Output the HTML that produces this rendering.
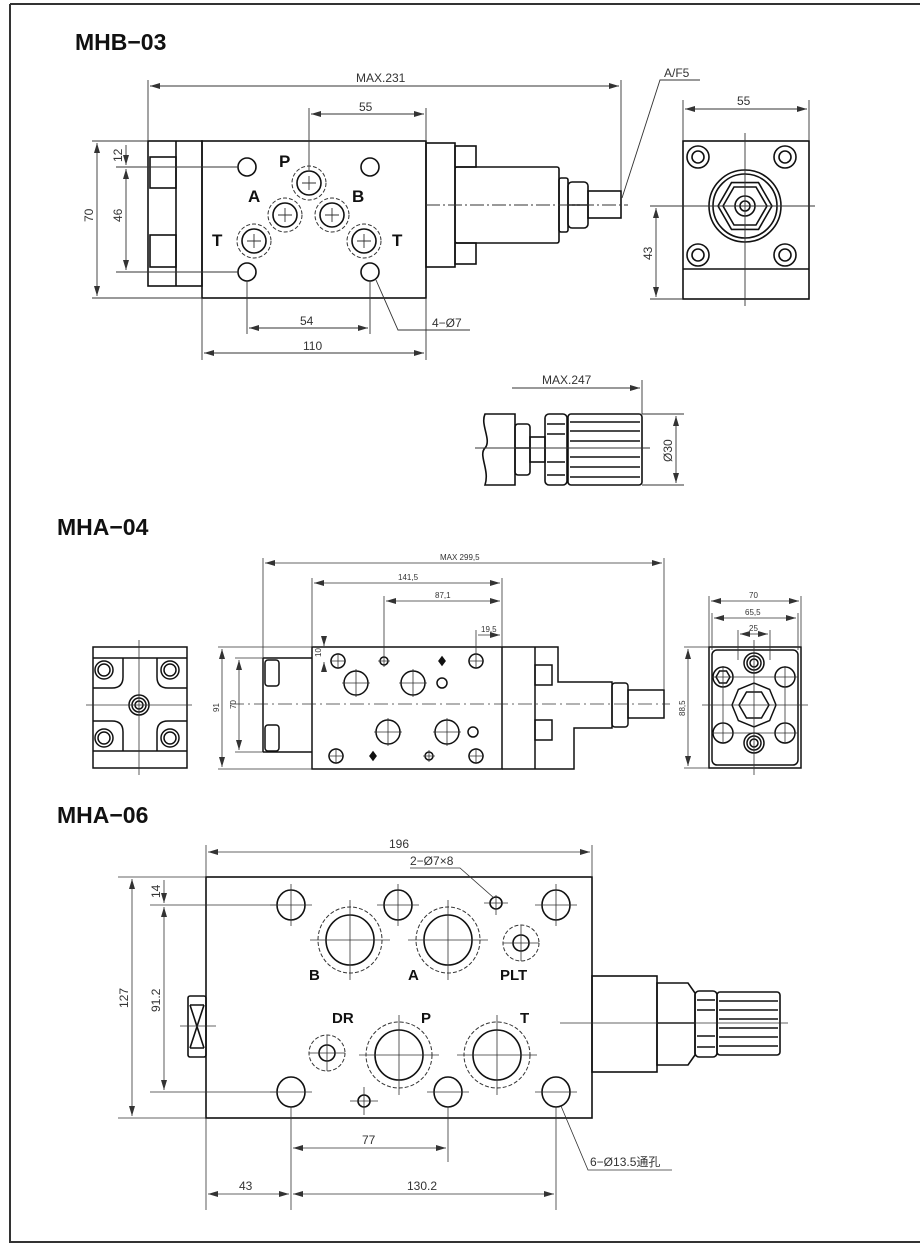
<!DOCTYPE html>
<html><head><meta charset="utf-8">
<style>
html,body{margin:0;padding:0;background:#fff;}
svg{display:block;}
.t{font-family:"Liberation Sans","Noto Sans CJK SC",sans-serif;font-size:12px;fill:#333;}
.s{font-family:"Liberation Sans",sans-serif;font-size:8px;fill:#333;}
.b{font-family:"Liberation Sans",sans-serif;font-weight:bold;font-size:17px;fill:#111;}
.h{font-family:"Liberation Sans",sans-serif;font-weight:bold;font-size:23px;fill:#111;}
</style></head><body>
<svg width="920" height="1247" viewBox="0 0 920 1247" xmlns="http://www.w3.org/2000/svg">
<defs>
<marker id="a" viewBox="0 0 10 6" refX="10" refY="3" markerWidth="10" markerHeight="6" orient="auto-start-reverse" markerUnits="userSpaceOnUse"><path d="M0,0 L10,3 L0,6z" fill="#333"/></marker>
</defs>
<!-- frame -->
<path d="M10,4 H920 M10,4 V1242 H920" stroke="#333" stroke-width="2" fill="none"/>
<text class="h" x="75" y="50">MHB−03</text>
<text class="h" x="57" y="535">MHA−04</text>
<text class="h" x="57" y="823">MHA−06</text>

<g fill="none" stroke="#111" stroke-width="1.6">
<!-- ===== MHB-03 side view ===== -->
<rect x="148" y="141" width="54" height="145"/>
<line x1="176" y1="141" x2="176" y2="286"/>
<rect x="150" y="157" width="26" height="31"/>
<rect x="150" y="235" width="26" height="32"/>
<rect x="202" y="141" width="224" height="157"/>
<rect x="426" y="143" width="29" height="124"/>
<rect x="455" y="146" width="21" height="21"/>
<rect x="455" y="243" width="21" height="21"/>
<rect x="455" y="167" width="104" height="76" rx="2"/>
<rect x="559" y="178" width="9" height="54" rx="2"/>
<rect x="568" y="182" width="20" height="46" rx="4"/>
<line x1="568" y1="205" x2="588" y2="205"/>
<rect x="588" y="191" width="33" height="27"/>
<!-- holes -->
<circle cx="247" cy="167" r="9"/><circle cx="370" cy="167" r="9"/>
<circle cx="247" cy="272" r="9"/><circle cx="370" cy="272" r="9"/>
<circle cx="309" cy="183" r="12"/><circle cx="285" cy="215" r="12"/>
<circle cx="332" cy="215" r="12"/><circle cx="254" cy="241" r="12"/><circle cx="364" cy="241" r="12"/>
</g>
<g fill="none" stroke="#333" stroke-width="1" stroke-dasharray="4,2">
<circle cx="309" cy="183" r="17"/><circle cx="285" cy="215" r="17"/>
<circle cx="332" cy="215" r="17"/><circle cx="254" cy="241" r="17"/><circle cx="364" cy="241" r="17"/>
</g>
<g fill="none" stroke="#333" stroke-width="0.9">
<path d="M309,176 V190 M302,183 H316 M285,208 V222 M278,215 H292 M332,208 V222 M325,215 H339 M254,234 V248 M247,241 H261 M364,234 V248 M357,241 H371"/>
<line x1="426" y1="205" x2="628" y2="205" stroke-dasharray="14,3,2,3"/>
<!-- dims -->
<line x1="148" y1="141" x2="148" y2="80"/><line x1="621" y1="191" x2="621" y2="80"/>
<line x1="150" y1="86" x2="619" y2="86" marker-start="url(#a)" marker-end="url(#a)"/>
<line x1="309" y1="170" x2="309" y2="108"/><line x1="426" y1="141" x2="426" y2="108"/>
<line x1="311" y1="114" x2="424" y2="114" marker-start="url(#a)" marker-end="url(#a)"/>
<line x1="92" y1="141" x2="148" y2="141"/><line x1="92" y1="298" x2="202" y2="298"/>
<line x1="116" y1="167" x2="238" y2="167"/><line x1="116" y1="272" x2="238" y2="272"/>
<line x1="97" y1="143" x2="97" y2="296" marker-start="url(#a)" marker-end="url(#a)"/>
<line x1="126" y1="169" x2="126" y2="270" marker-start="url(#a)" marker-end="url(#a)"/>
<line x1="126" y1="145" x2="126" y2="165" marker-end="url(#a)"/>
<line x1="247" y1="281" x2="247" y2="334"/><line x1="370" y1="281" x2="370" y2="334"/>
<line x1="249" y1="328" x2="368" y2="328" marker-start="url(#a)" marker-end="url(#a)"/>
<line x1="202" y1="298" x2="202" y2="360"/><line x1="426" y1="298" x2="426" y2="360"/>
<line x1="204" y1="353" x2="424" y2="353" marker-start="url(#a)" marker-end="url(#a)"/>
<path d="M376,280 L398,330 H470"/>
<path d="M622,198 L660,80 H700"/>
</g>
<g class="t">
<text x="356" y="82">MAX.231</text>
<text x="359" y="111">55</text>
<text x="300" y="325">54</text>
<text x="303" y="350">110</text>
<text x="432" y="327">4−Ø7</text>
<text x="664" y="77">A/F5</text>
<text transform="translate(93,222) rotate(-90)">70</text>
<text transform="translate(122,222) rotate(-90)">46</text>
<text transform="translate(122,162) rotate(-90)">12</text>
</g>
<g class="b">
<text x="279" y="167">P</text><text x="248" y="202">A</text><text x="352" y="202">B</text>
<text x="212" y="246">T</text><text x="392" y="246">T</text>
</g>

<!-- MHB-03 end view -->
<g fill="none" stroke="#111" stroke-width="1.6">
<rect x="683" y="141" width="126" height="158"/>
<line x1="683" y1="269" x2="809" y2="269"/>
<circle cx="698" cy="157" r="11"/><circle cx="785" cy="157" r="11"/>
<circle cx="698" cy="255" r="11"/><circle cx="785" cy="255" r="11"/>
<circle cx="698" cy="157" r="6"/><circle cx="785" cy="157" r="6"/>
<circle cx="698" cy="255" r="6"/><circle cx="785" cy="255" r="6"/>
<circle cx="745" cy="206" r="36"/><circle cx="745" cy="206" r="32"/>
<polygon points="772,206 758.5,229.4 731.5,229.4 718,206 731.5,182.6 758.5,182.6"/>
<polygon points="767,206 756,225 734,225 723,206 734,187 756,187"/>
<circle cx="745" cy="206" r="10"/><circle cx="745" cy="206" r="5"/>
</g>
<g fill="none" stroke="#333" stroke-width="0.9">
<line x1="745" y1="133" x2="745" y2="306"/><line x1="650" y1="206" x2="815" y2="206"/>
<line x1="683" y1="141" x2="683" y2="100"/><line x1="809" y1="141" x2="809" y2="100"/>
<line x1="685" y1="109" x2="807" y2="109" marker-start="url(#a)" marker-end="url(#a)"/>
<line x1="650" y1="299" x2="683" y2="299"/>
<line x1="656" y1="208" x2="656" y2="297" marker-start="url(#a)" marker-end="url(#a)"/>
</g>
<text class="t" x="737" y="105">55</text>
<text class="t" transform="translate(652,260) rotate(-90)">43</text>

<!-- MAX.247 view -->
<g fill="none" stroke="#111" stroke-width="1.6">
<path d="M485,414 H515 V485 H485 C490,470 478,455 485,448 C492,440 480,425 485,414Z"/>
<rect x="515" y="424" width="15" height="51" rx="3"/>
<line x1="515" y1="448" x2="530" y2="448"/>
<rect x="530" y="437" width="15" height="25"/>
<rect x="545" y="414" width="22" height="71" rx="4"/>
<rect x="568" y="414" width="74" height="71" rx="3"/>
<path d="M570,422 H640 M570,431 H640 M570,441 H640 M570,457 H640 M570,467 H640 M570,477 H640 M547,424 H565 M547,434 H565 M547,462 H565 M547,475 H565"/>
</g>
<g fill="none" stroke="#333" stroke-width="0.9">
<line x1="475" y1="448" x2="650" y2="448"/>
<line x1="642" y1="414" x2="642" y2="380"/>
<line x1="512" y1="388" x2="640" y2="388" marker-end="url(#a)"/>
<line x1="642" y1="414" x2="684" y2="414"/><line x1="642" y1="485" x2="684" y2="485"/>
<line x1="676" y1="416" x2="676" y2="483" marker-start="url(#a)" marker-end="url(#a)"/>
</g>
<text class="t" x="542" y="384">MAX.247</text>
<text class="t" transform="translate(672,462) rotate(-90)">Ø30</text>

<!-- ===== MHA-04 ===== -->
<g fill="none" stroke="#111" stroke-width="1.5">
<rect x="93" y="647" width="94" height="121"/>
<path d="M93,658 H187 M93,751 H187"/>
<path d="M93,688 H112 Q123,688 123,677 V658 M187,688 H168 Q157,688 157,677 V658 M93,721 H112 Q123,721 123,732 V751 M187,721 H168 Q157,721 157,732 V751"/>
<circle cx="104" cy="670" r="9"/><circle cx="170" cy="670" r="9"/><circle cx="104" cy="738" r="9"/><circle cx="170" cy="738" r="9"/>
<circle cx="104" cy="670" r="6"/><circle cx="170" cy="670" r="6"/><circle cx="104" cy="738" r="6"/><circle cx="170" cy="738" r="6"/>
<circle cx="139" cy="705" r="10"/><circle cx="139" cy="705" r="7"/><circle cx="139" cy="705" r="4"/>
<!-- main -->
<path d="M263,658 H312 M263,752 H312 M263,658 V752"/>
<rect x="265" y="660" width="14" height="26" rx="3"/><rect x="265" y="725" width="14" height="26" rx="3"/>
<rect x="312" y="647" width="190" height="122"/>
<path d="M502,647 H558 V682 H612 V728 H574 V769 H502"/>
<line x1="535" y1="647" x2="535" y2="769"/>
<rect x="535" y="665" width="17" height="20"/><rect x="535" y="720" width="17" height="20"/>
<rect x="612" y="683" width="16" height="44" rx="3"/>
<rect x="628" y="690" width="36" height="28"/>
<circle cx="338" cy="661" r="7"/><circle cx="384" cy="661" r="4"/><circle cx="476" cy="661" r="7"/>
<circle cx="356" cy="683" r="12"/><circle cx="413" cy="683" r="12"/><circle cx="442" cy="683" r="5"/>
<circle cx="388" cy="732" r="12"/><circle cx="447" cy="732" r="12"/><circle cx="473" cy="732" r="5"/>
<circle cx="336" cy="756" r="7"/><circle cx="429" cy="756" r="4"/><circle cx="476" cy="756" r="7"/>
<path d="M442,657 l3,4 -3,4 -3,-4z M373,752 l3,4 -3,4 -3,-4z" fill="#111"/>
</g>
<g fill="none" stroke="#333" stroke-width="0.8">
<line x1="139" y1="640" x2="139" y2="775"/><line x1="86" y1="705" x2="192" y2="705"/>
<line x1="230" y1="704" x2="670" y2="704" stroke-dasharray="14,4,2,4"/>
<path d="M330,661 H346 M338,653 V669 M378,661 H390 M384,655 V667 M468,661 H484 M476,653 V669 M342,683 H370 M356,669 V697 M399,683 H427 M413,669 V697 M374,732 H402 M388,718 V746 M433,732 H461 M447,718 V746 M328,756 H344 M336,748 V764 M423,756 H435 M429,750 V762 M468,756 H484 M476,748 V764"/>
<line x1="263" y1="658" x2="263" y2="558"/><line x1="664" y1="690" x2="664" y2="558"/>
<line x1="265" y1="563" x2="662" y2="563" marker-start="url(#a)" marker-end="url(#a)"/>
<line x1="312" y1="647" x2="312" y2="578"/><line x1="502" y1="647" x2="502" y2="578"/>
<line x1="314" y1="583" x2="500" y2="583" marker-start="url(#a)" marker-end="url(#a)"/>
<line x1="384" y1="655" x2="384" y2="596"/>
<line x1="386" y1="601" x2="500" y2="601" marker-start="url(#a)" marker-end="url(#a)"/>
<line x1="476" y1="653" x2="476" y2="630"/>
<line x1="478" y1="635" x2="500" y2="635" marker-end="url(#a)"/>
<line x1="324" y1="637" x2="324" y2="646" marker-end="url(#a)"/><line x1="324" y1="672" x2="324" y2="662" marker-end="url(#a)"/>
<line x1="218" y1="647" x2="312" y2="647"/><line x1="218" y1="769" x2="312" y2="769"/>
<line x1="222" y1="649" x2="222" y2="767" marker-start="url(#a)" marker-end="url(#a)"/>
<line x1="235" y1="658" x2="263" y2="658"/><line x1="235" y1="752" x2="263" y2="752"/>
<line x1="239" y1="660" x2="239" y2="750" marker-start="url(#a)" marker-end="url(#a)"/>
</g>
<g class="s">
<text x="440" y="560">MAX 299,5</text>
<text x="398" y="580">141,5</text>
<text x="435" y="598">87,1</text>
<text x="481" y="632">19,5</text>
<text transform="translate(321,657) rotate(-90)">10</text>
<text transform="translate(219,712) rotate(-90)">91</text>
<text transform="translate(236,709) rotate(-90)">70</text>
<text transform="translate(685,716) rotate(-90)">88,5</text>
<text x="749" y="598">70</text>
<text x="745" y="615">65,5</text>
<text x="749" y="631">25</text>
</g>
<!-- MHA-04 end view -->
<g fill="none" stroke="#111" stroke-width="1.5">
<rect x="709" y="647" width="92" height="121"/>
<rect x="712" y="650" width="86" height="115" rx="5"/>
<circle cx="754" cy="663" r="10"/><circle cx="754" cy="663" r="7"/><circle cx="754" cy="663" r="4"/>
<circle cx="754" cy="743" r="10"/><circle cx="754" cy="743" r="7"/><circle cx="754" cy="743" r="4"/>
<circle cx="723" cy="677" r="10"/><polygon points="730,677 726.5,683 719.5,683 716,677 719.5,671 726.5,671"/>
<circle cx="785" cy="677" r="10"/>
<circle cx="723" cy="733" r="10"/><circle cx="785" cy="733" r="10"/>
<polygon points="776,705 769.6,720.6 754,727 738.4,720.6 732,705 738.4,689.4 754,683 769.6,689.4"/>
<polygon points="769,705 761.5,718 746.5,718 739,705 746.5,692 761.5,692"/>
</g>
<g fill="none" stroke="#333" stroke-width="0.8">
<line x1="754" y1="640" x2="754" y2="775"/><line x1="702" y1="705" x2="808" y2="705"/>
<path d="M712,677 H798 M712,733 H798 M723,666 V744 M785,666 V744"/>
<line x1="709" y1="647" x2="709" y2="596"/><line x1="801" y1="647" x2="801" y2="596"/>
<line x1="711" y1="601" x2="799" y2="601" marker-start="url(#a)" marker-end="url(#a)"/>
<line x1="712" y1="650" x2="712" y2="613"/><line x1="798" y1="650" x2="798" y2="613"/>
<line x1="714" y1="618" x2="796" y2="618" marker-start="url(#a)" marker-end="url(#a)"/>
<line x1="738" y1="660" x2="738" y2="630"/><line x1="770" y1="660" x2="770" y2="630"/>
<line x1="740" y1="634" x2="768" y2="634" marker-start="url(#a)" marker-end="url(#a)"/>
<line x1="684" y1="647" x2="709" y2="647"/><line x1="684" y1="768" x2="709" y2="768"/>
<line x1="688" y1="649" x2="688" y2="766" marker-start="url(#a)" marker-end="url(#a)"/>
</g>

<!-- ===== MHA-06 ===== -->
<g fill="none" stroke="#111" stroke-width="1.6">
<rect x="206" y="877" width="386" height="241"/>
<rect x="188" y="996" width="18" height="61" rx="2"/>
<path d="M190,1005 H204 M190,1048 H204 M190,1005 L204,1048 M204,1005 L190,1048"/>
<rect x="592" y="976" width="65" height="96"/>
<path d="M657,983 H688 L695,993 V1055 L688,1065 H657Z"/>
<line x1="657" y1="1023" x2="695" y2="1023"/>
<rect x="695" y="991" width="22" height="66" rx="4"/>
<rect x="717" y="992" width="63" height="63" rx="3"/>
<path d="M719,1001 H778 M719,1010 H778 M719,1019 H778 M719,1028 H778 M719,1037 H778 M719,1046 H778 M697,1000 H715 M697,1010 H715 M697,1036 H715 M697,1047 H715"/>
<ellipse cx="291" cy="905" rx="14" ry="15"/><ellipse cx="398" cy="905" rx="14" ry="15"/><ellipse cx="556" cy="905" rx="14" ry="15"/>
<ellipse cx="496" cy="903" rx="6" ry="6"/>
<ellipse cx="350" cy="940" rx="24" ry="25"/><ellipse cx="448" cy="940" rx="24" ry="25"/>
<circle cx="521" cy="943" r="8"/>
<circle cx="327" cy="1053" r="8"/>
<ellipse cx="399" cy="1055" rx="24" ry="25"/><ellipse cx="497" cy="1055" rx="24" ry="25"/>
<ellipse cx="291" cy="1092" rx="14" ry="15"/><ellipse cx="448" cy="1092" rx="14" ry="15"/><ellipse cx="556" cy="1092" rx="14" ry="15"/>
<circle cx="364" cy="1101" r="6"/>
</g>
<g fill="none" stroke="#333" stroke-width="1" stroke-dasharray="4,2">
<ellipse cx="350" cy="940" rx="32" ry="33"/><ellipse cx="448" cy="940" rx="32" ry="33"/>
<circle cx="521" cy="943" r="18"/><circle cx="327" cy="1053" r="18"/>
<ellipse cx="399" cy="1055" rx="33" ry="33"/><ellipse cx="497" cy="1055" rx="33" ry="33"/>
</g>
<g fill="none" stroke="#333" stroke-width="0.8">
<path d="M270,905 H312 M291,884 V926 M377,905 H419 M398,884 V926 M535,905 H577 M556,884 V926 M484,903 H508 M496,895 V915 M310,940 H390 M350,900 V980 M408,940 H488 M448,900 V980 M503,943 H539 M521,925 V961 M309,1053 H345 M327,1035 V1071 M359,1055 H439 M399,1015 V1095 M457,1055 H537 M497,1015 V1095 M270,1092 H312 M427,1092 H469 M535,1092 H577 M350,1101 H378 M364,1087 V1115"/>
<line x1="560" y1="1023" x2="788" y2="1023"/>
<line x1="180" y1="1026" x2="216" y2="1026"/>
<line x1="206" y1="877" x2="206" y2="845"/><line x1="592" y1="877" x2="592" y2="845"/>
<line x1="208" y1="852" x2="590" y2="852" marker-start="url(#a)" marker-end="url(#a)"/>
<line x1="118" y1="877" x2="206" y2="877"/><line x1="118" y1="1118" x2="206" y2="1118"/>
<line x1="150" y1="905" x2="277" y2="905"/><line x1="150" y1="1092" x2="277" y2="1092"/>
<line x1="132" y1="879" x2="132" y2="1116" marker-start="url(#a)" marker-end="url(#a)"/>
<line x1="164" y1="907" x2="164" y2="1090" marker-start="url(#a)" marker-end="url(#a)"/>
<line x1="164" y1="880" x2="164" y2="903" marker-end="url(#a)"/>
<line x1="291" y1="1107" x2="291" y2="1210"/><line x1="448" y1="1107" x2="448" y2="1162"/>
<line x1="556" y1="1107" x2="556" y2="1210"/><line x1="206" y1="1118" x2="206" y2="1210"/>
<line x1="293" y1="1148" x2="446" y2="1148" marker-start="url(#a)" marker-end="url(#a)"/>
<line x1="208" y1="1194" x2="289" y2="1194" marker-start="url(#a)" marker-end="url(#a)"/>
<line x1="293" y1="1194" x2="554" y2="1194" marker-start="url(#a)" marker-end="url(#a)"/>
<path d="M410,868 H460 L494,898"/>
<path d="M561,1106 L588,1170 H672"/>
</g>
<g class="t">
<text x="389" y="848">196</text>
<text x="410" y="865">2−Ø7×8</text>
<text x="362" y="1144">77</text>
<text x="239" y="1190">43</text>
<text x="407" y="1190">130.2</text>
<text x="590" y="1166">6−Ø13.5通孔</text>
<text transform="translate(128,1008) rotate(-90)">127</text>
<text transform="translate(160,1012) rotate(-90)">91.2</text>
<text transform="translate(160,898) rotate(-90)">14</text>
</g>
<g class="b" style="font-size:15px">
<text x="309" y="980">B</text><text x="408" y="980">A</text><text x="500" y="980">PLT</text>
<text x="332" y="1023">DR</text><text x="421" y="1023">P</text><text x="520" y="1023">T</text>
</g>
</svg>
</body></html>
